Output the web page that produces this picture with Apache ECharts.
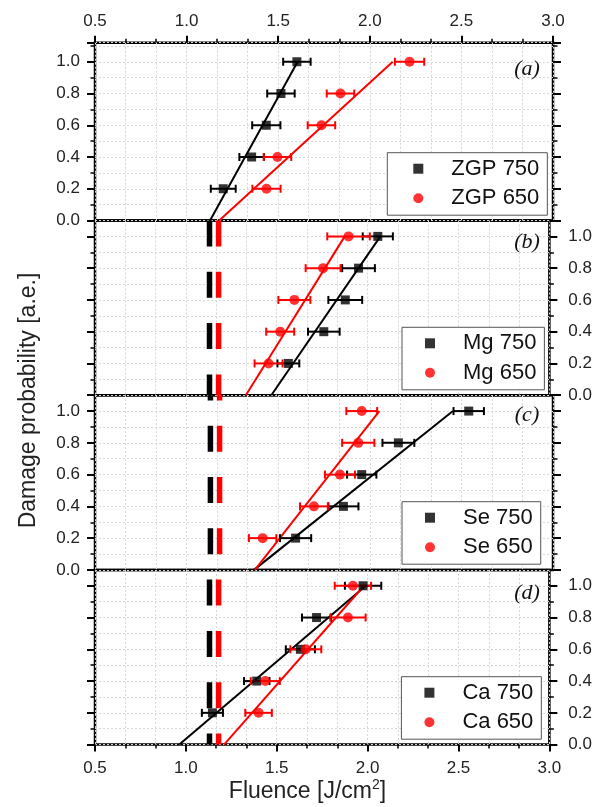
<!DOCTYPE html>
<html>
<head>
<meta charset="utf-8">
<script src="https://cdn.jsdelivr.net/npm/echarts@6/dist/echarts.min.js"></script>
<style>
  html, body { margin: 0; padding: 0; background: #ffffff; }
  #chart { width: 595px; height: 807px; }
</style>
</head>
<body>
<div id="chart"></div>
<script>
// Damage probability versus laser fluence, four crystals, 750 nm and 650 nm pumping.
// Each point: fluence (J/cm^2) at a given damage probability, with a horizontal error.

const probability = [0.2, 0.4, 0.6, 0.8, 1.0];

// (a) ZGP
const zgp750    = [1.200, 1.355, 1.435, 1.515, 1.602];
const zgp750Err = [0.068, 0.067, 0.077, 0.075, 0.075];
const zgp650    = [1.436, 1.496, 1.736, 1.840, 2.217];
const zgp650Err = [0.077, 0.075, 0.075, 0.075, 0.080];
const zgp750Fit = [1.128, 1.606];   // fluence at probability 0 and 1
const zgp650Fit = [1.178, 2.125];

// (b) Mg
const mg750    = [1.564, 1.759, 1.877, 1.950, 2.056];
const mg750Err = [0.060, 0.087, 0.093, 0.090, 0.083];
const mg650    = [1.455, 1.519, 1.597, 1.755, 1.895];
const mg650Err = [0.077, 0.077, 0.088, 0.096, 0.117];
const mg750Fit = [1.470, 2.070];
const mg650Fit = [1.330, 1.874];

// (c) Se
const se750    = [1.595, 1.856, 1.956, 2.156, 2.540];
const se750Err = [0.085, 0.082, 0.080, 0.087, 0.083];
const se650    = [1.415, 1.695, 1.837, 1.937, 1.956];
const se650Err = [0.075, 0.076, 0.082, 0.088, 0.084];
const se750Fit = [1.368, 2.454];
const se650Fit = [1.373, 2.052];

// (d) Ca
const ca750    = [1.146, 1.390, 1.630, 1.719, 1.975];
const ca750Err = [0.058, 0.070, 0.080, 0.080, 0.100];
const ca650    = [1.400, 1.437, 1.660, 1.892, 1.919];
const ca650Err = [0.073, 0.080, 0.085, 0.097, 0.100];
const ca750Fit = [0.964, 1.990];
const ca650Fit = [1.210, 1.980];

// Damage thresholds of the reference ZGP crystal (dashed verticals in b-d)
const threshold750 = 1.13;
const threshold650 = 1.18;

// Axis ranges and tick steps
const fluenceMin = 0.5, fluenceMax = 3.0, fluenceStep = 0.5;
const probabilityStep = 0.2;

const FONT = '"Liberation Sans", Arial, Helvetica, sans-serif';
const BLACK = '#000000';
const RED = '#ff0000';
const GRIDLINE = { color: '#d6d6d6', width: 1, type: [2, 2] };

const panels = [
  { tag: '(a)', tagY: 69,  n750: 'ZGP 750', n650: 'ZGP 650',
    s750: zgp750, e750: zgp750Err, s650: zgp650, e650: zgp650Err, f750: zgp750Fit, f650: zgp650Fit,
    top: 42.7, height: 177.8, yMax: 1.12, labelSide: 'left', xLabels: 'top', dashes: false,
    legendLeft: 387.3, legendTop: 152.7, legendPadLeft: 26 },
  { tag: '(b)', tagY: 242, n750: 'Mg 750', n650: 'Mg 650',
    s750: mg750, e750: mg750Err, s650: mg650, e650: mg650Err, f750: mg750Fit, f650: mg650Fit,
    top: 220.5, height: 174.7, yMax: 1.1, labelSide: 'right', xLabels: null, dashes: true, dashOffset: 0,
    legendLeft: 402, legendTop: 327.3, legendPadLeft: 23 },
  { tag: '(c)', tagY: 415, n750: 'Se 750', n650: 'Se 650',
    s750: se750, e750: se750Err, s650: se650, e650: se650Err, f750: se750Fit, f650: se650Fit,
    top: 395.2, height: 174.7, yMax: 1.1, labelSide: 'left', xLabels: null, dashes: true, dashOffset: 20.8,
    legendLeft: 402, legendTop: 501.7, legendPadLeft: 23 },
  { tag: '(d)', tagY: 593, n750: 'Ca 750', n650: 'Ca 650',
    s750: ca750, e750: ca750Err, s650: ca650, e650: ca650Err, f750: ca750Fit, f650: ca650Fit,
    top: 569.9, height: 174.7, yMax: 1.1, labelSide: 'right', xLabels: 'bottom', dashes: true, dashOffset: 41.6,
    legendLeft: 401.4, legendTop: 676.7, legendPadLeft: 23 }
];

const grids = [], xAxes = [], yAxes = [], series = [], legends = [], graphics = [];

function yAxisFor(i, side, p) {
  const withLabels = p.labelSide === side;
  return {
    type: 'value', gridIndex: i, position: side,
    min: 0, max: p.yMax, interval: probabilityStep,
    axisLine: { show: false, onZero: false },
    axisTick: { show: true, inside: false, length: 8, lineStyle: { color: BLACK, width: 2 } },
    minorTick: { show: true, splitNumber: 2, length: 4.5, lineStyle: { color: BLACK, width: 1.5 } },
    axisLabel: {
      show: withLabels, showMaxLabel: false, margin: side === 'left' ? 15 : 19,
      fontFamily: FONT, fontSize: 17, color: '#222',
      formatter: v => v.toFixed(1)
    },
    splitLine: { show: side === 'left', lineStyle: GRIDLINE },
    minorSplitLine: { show: side === 'left', lineStyle: GRIDLINE }
  };
}

function errorBars(i, values, errs, color) {
  return {
    type: 'custom', xAxisIndex: i, yAxisIndex: 2 * i, z: 4, silent: true,
    encode: { x: 0, y: 1 },
    data: probability.map((p, k) => [values[k], p, errs[k]]),
    renderItem: (params, api) => {
      const x = api.value(0), y = api.value(1), e = api.value(2);
      const l = api.coord([x - e, y]);
      const r = api.coord([x + e, y]);
      const cap = 4;
      const st = { stroke: color, lineWidth: 2 };
      return {
        type: 'group',
        children: [
          { type: 'line', shape: { x1: l[0], y1: l[1], x2: r[0], y2: r[1] }, style: st },
          { type: 'line', shape: { x1: l[0], y1: l[1] - cap, x2: l[0], y2: l[1] + cap }, style: st },
          { type: 'line', shape: { x1: r[0], y1: r[1] - cap, x2: r[0], y2: r[1] + cap }, style: st }
        ]
      };
    }
  };
}

panels.forEach((p, i) => {
  grids.push({
    left: 95, right: 42, top: p.top, height: p.height,
    show: true, borderColor: BLACK, borderWidth: 2.5, backgroundColor: 'transparent'
  });

  xAxes.push({
    type: 'value', gridIndex: i, position: p.xLabels || 'bottom',
    min: fluenceMin, max: fluenceMax, interval: fluenceStep,
    axisLine: { show: false, onZero: false },
    axisTick: { show: !!p.xLabels, inside: false, length: 7, lineStyle: { color: BLACK, width: 2 } },
    minorTick: { show: !!p.xLabels, splitNumber: 3, length: 4, lineStyle: { color: BLACK, width: 1.5 } },
    axisLabel: {
      show: !!p.xLabels, margin: p.xLabels === 'top' ? 13 : 15,
      fontFamily: FONT, fontSize: 17, color: '#222',
      formatter: v => v.toFixed(1)
    },
    splitLine: { show: true, lineStyle: GRIDLINE },
    minorSplitLine: { show: true, lineStyle: GRIDLINE }
  });

  yAxes.push(yAxisFor(i, 'left', p));
  yAxes.push(yAxisFor(i, 'right', p));

  if (p.dashes) {
    [[threshold750, BLACK], [threshold650, RED]].forEach(([t, c]) => {
      series.push({
        type: 'line', xAxisIndex: i, yAxisIndex: 2 * i, z: 2, silent: true,
        symbol: 'none', animation: false,
        data: [[t, p.yMax], [t, 0]],
        lineStyle: { color: c, width: 5.5, type: [26, 25.3], dashOffset: p.dashOffset }
      });
    });
  }

  [[p.f750, BLACK], [p.f650, RED]].forEach(([f, c]) => {
    series.push({
      type: 'line', xAxisIndex: i, yAxisIndex: 2 * i, z: 3, silent: true,
      symbol: 'none', animation: false,
      data: [[f[0], 0], [f[1], 1.0]],
      lineStyle: { color: c, width: 2 }
    });
  });

  series.push(errorBars(i, p.s750, p.e750, BLACK));
  series.push(errorBars(i, p.s650, p.e650, RED));

  series.push({
    name: p.n750, type: 'scatter', xAxisIndex: i, yAxisIndex: 2 * i, z: 5,
    symbol: 'rect', symbolSize: 9, itemStyle: { color: BLACK },
    data: probability.map((y, k) => [p.s750[k], y])
  });
  series.push({
    name: p.n650, type: 'scatter', xAxisIndex: i, yAxisIndex: 2 * i, z: 5,
    symbol: 'circle', symbolSize: 10, itemStyle: { color: RED },
    data: probability.map((y, k) => [p.s650[k], y])
  });

  legends.push({
    data: [{ name: p.n750, icon: 'rect' }, { name: p.n650, icon: 'circle' }],
    orient: 'vertical', left: p.legendLeft, top: p.legendTop,
    padding: [4, 8, 5, p.legendPadLeft], itemGap: 5.5,
    itemWidth: 10, itemHeight: 10,
    borderColor: '#555', borderWidth: 1, backgroundColor: '#ffffff',
    selectedMode: false,
    textStyle: { fontFamily: FONT, fontSize: 22, color: '#111', lineHeight: 24, padding: [0, 0, 0, 23] }
  });

  graphics.push({
    type: 'text', x: 527, y: p.tagY, z: 10,
    style: {
      text: p.tag, font: 'italic 22px "Liberation Serif", "Times New Roman", serif',
      fill: '#111', textAlign: 'center', textVerticalAlign: 'middle'
    }
  });
});

graphics.push({
  type: 'text', x: 29, y: 400.5, rotation: Math.PI / 2, z: 10,
  style: {
    text: 'Damage probability [a.e.]', font: '23px ' + FONT,
    fill: '#222', textAlign: 'center', textVerticalAlign: 'middle'
  }
});
graphics.push({
  type: 'text', x: 307.5, y: 792, z: 10,
  style: {
    text: 'Fluence [J/cm{sup|2}]', font: '23px ' + FONT,
    fill: '#222', textAlign: 'center', textVerticalAlign: 'middle',
    rich: { sup: { fontSize: 14, fontFamily: FONT, fill: '#222', padding: [0, 0, 13, 0] } }
  }
});

const chart = echarts.init(document.getElementById('chart'), null, { renderer: 'canvas', width: 595, height: 807 });
chart.setOption({
  animation: false,
  backgroundColor: '#ffffff',
  grid: grids,
  xAxis: xAxes,
  yAxis: yAxes,
  legend: legends,
  series: series,
  graphic: graphics
});
</script>
</body>
</html>
